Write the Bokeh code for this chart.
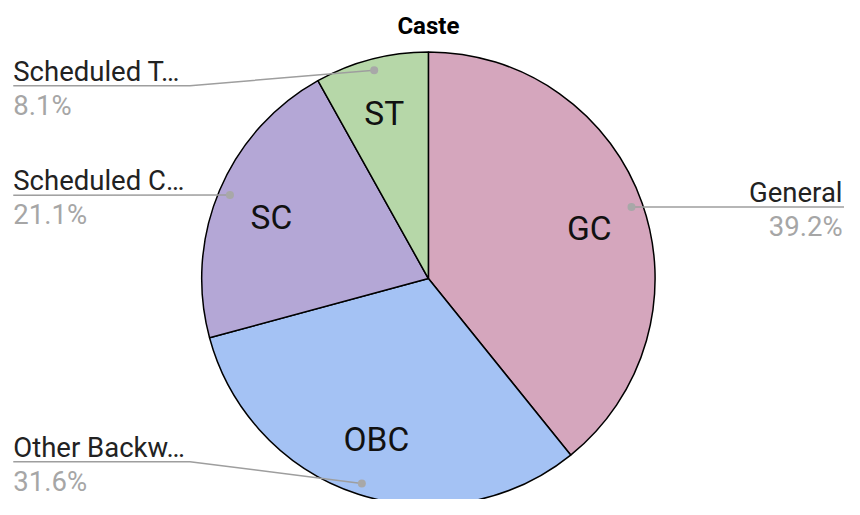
import math
from bokeh.plotting import figure
from bokeh.models import Range1d, ColumnDataSource
from bokeh.core.properties import value
from bokeh.embed import file_html
from bokeh.resources import INLINE

# ---- data ----
title_text = "Caste"
short_names = ["GC", "OBC", "SC", "ST"]
long_names = ["General", "Other Backw…", "Scheduled C…", "Scheduled T…"]
shares = [39.2, 31.6, 21.1, 8.1]
colors = ["#d5a6bd", "#a4c2f4", "#b4a7d6", "#b6d7a8"]

# ---- layout (coordinates in the 860x515 reference frame) ----
W, H = 844, 499
TXT = 7  # compensation for svg text baseline placement
def Y(sy):
    return 515 - sy

cx, cy, R = 436, Y(287), 231
label_line_y = [213, 476, 201, 88]       # screen y of each leader's horizontal part
label_side = ["right", "left", "left", "left"]
inner_baseline = [242, 460, 231, 124]
inner_x = [600, 383, 276, 391]

p = figure(width=W, height=H, output_backend="svg", toolbar_location=None,
           x_range=Range1d(0, 860), y_range=Range1d(0, 515),
           min_border=0, outline_line_color=None)
p.axis.visible = False
p.grid.visible = False
p.background_fill_color = "white"
p.border_fill_color = "white"

total = sum(shares)
starts, ends, mids = [], [], []
a = math.pi / 2
for v in shares:
    span = v / total * 2 * math.pi
    starts.append(a)
    ends.append(a - span)
    mids.append(a - span / 2)
    a -= span

src = ColumnDataSource(dict(start=starts, end=ends, color=colors))
p.wedge(x=cx, y=cy, radius=R, start_angle="start", end_angle="end", direction="clock",
        fill_color="color", line_color="black", line_width=1.5, source=src)

# inner labels
p.text(x=inner_x, y=[Y(b) + TXT for b in inner_baseline], text=short_names,
       text_font=value("Roboto"), text_font_size="33.5px", text_color="#111111",
       text_align="center", text_baseline="alphabetic")

# leaders and outer labels
for i in range(len(shares)):
    dx = cx + 0.95 * R * math.cos(mids[i])
    dy = cy + 0.95 * R * math.sin(mids[i]) * 515 / 499 * 844 / 860
    ly = Y(label_line_y[i])
    if label_side[i] == "right":
        xs = [dx, 860]
        ys = [dy, ly]
        tx, align = 858, "right"
    else:
        if abs(dy - ly) > 3:
            xs = [dx, 193, 13]
            ys = [dy, ly, ly]
        else:
            xs = [dx, 13]
            ys = [dy, ly]
        tx, align = 13, "left"
    p.line(xs, ys, line_color="#9e9e9e", line_width=1.5)
    p.scatter([dx], [dy], size=8, fill_color="#a8a8a8", line_color=None)
    p.text(x=[tx], y=[ly + 8 + TXT], text=[long_names[i]], text_font=value("Roboto"),
           text_font_size="27.5px", text_color="#222222", text_align=align,
           text_baseline="alphabetic")
    p.text(x=[tx], y=[ly - 27 + TXT], text=[f"{shares[i]:.1f}%"], text_font=value("Roboto"),
           text_font_size="27.5px", text_color="#a6a6a6", text_align=align,
           text_baseline="alphabetic")

p.text(x=[436], y=[Y(33) + TXT], text=[title_text], text_font=value("Roboto"),
       text_font_size="24px", text_font_style="bold", text_color="#000000",
       text_align="center", text_baseline="alphabetic")

open("out.html", "w").write(file_html(p, INLINE))
